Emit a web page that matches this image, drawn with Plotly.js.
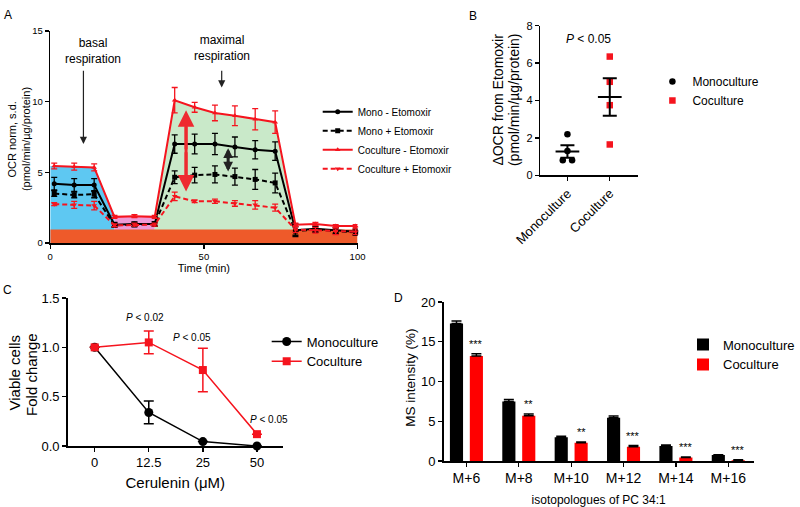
<!DOCTYPE html>
<html>
<head>
<meta charset="utf-8">
<script src="https://cdn.plot.ly/plotly-3.0.1.min.js"></script>
<style>html,body{margin:0;padding:0;background:#fff;}#chart{width:800px;height:507px;}</style>
</head>
<body>
<div id="chart"></div>
<script>
// ---------- Panel A data ----------
const timeMin = [1.3, 7.8, 14.3, 20.9, 27.4, 34.0, 40.5, 47.0, 53.6, 60.1, 66.7, 73.2, 79.8, 86.3, 92.9, 99.4];
const monoMinusEto   = [4.2, 4.1, 4.1, 1.3, 1.35, 1.35, 7.0, 7.0, 7.0, 6.8, 6.6, 6.5, 0.9, 1.0, 0.9, 0.8];
const monoMinusEtoSd = [0.45, 0.45, 0.45, 0.15, 0.15, 0.15, 0.65, 0.7, 0.75, 0.7, 0.65, 0.65, 0.45, 0.2, 0.2, 0.2];
const monoPlusEto    = [3.5, 3.4, 3.45, 1.25, 1.3, 1.35, 4.65, 4.8, 4.85, 4.7, 4.5, 4.25, 0.85, 0.95, 0.85, 0.75];
const monoPlusEtoSd  = [0.2, 0.2, 0.25, 0.15, 0.15, 0.15, 0.45, 0.55, 0.6, 0.6, 0.7, 0.7, 0.3, 0.2, 0.2, 0.2];
const cocMinusEto    = [5.45, 5.4, 5.35, 1.85, 1.9, 1.85, 10.1, 9.6, 9.2, 9.0, 8.75, 8.55, 1.3, 1.35, 1.2, 1.2];
const cocMinusEtoSd  = [0.2, 0.25, 0.25, 0.1, 0.1, 0.1, 0.9, 0.35, 0.55, 0.7, 0.75, 0.8, 0.1, 0.1, 0.1, 0.1];
const cocPlusEto     = [2.75, 2.7, 2.65, 1.25, 1.3, 1.3, 3.3, 2.95, 2.95, 2.8, 2.7, 2.5, 0.95, 0.9, 0.8, 0.8];
const cocPlusEtoSd   = [0.1, 0.25, 0.3, 0.1, 0.1, 0.1, 0.3, 0.1, 0.15, 0.2, 0.3, 0.25, 0.2, 0.2, 0.2, 0.2];
const nonMitoLevel = 0.95;
const timeRange = [0, 100];
const seriesNamesA = ['Mono - Etomoxir', 'Mono + Etomoxir', 'Coculture - Etomoxir', 'Coculture + Etomoxir'];

// ---------- Panel B data ----------
const groupsB = ['Monoculture', 'Coculture'];
const monoDeltaOCR = [2.2, 1.3, 0.8, 0.8];
const cocDeltaOCR  = [6.35, 5.0, 3.75, 1.65];

// ---------- Panel C data ----------
const ceruleninDose = ['0', '12.5', '25', '50'];
const monoViable    = [1.0, 0.34, 0.045, 0.0];
const monoViableErr = [0, 0.115, 0, 0];
const cocViable     = [1.0, 1.05, 0.77, 0.12];
const cocViableErr  = [0, 0.115, 0.22, 0];
const pLabelsC = ['<i>P</i> &lt; 0.02', '<i>P</i> &lt; 0.05', '<i>P</i> &lt; 0.05'];

// ---------- Panel D data ----------
const isotopologues = ['M+6', 'M+8', 'M+10', 'M+12', 'M+14', 'M+16'];
const monoMS    = [17.3, 7.5, 3.0, 5.45, 1.9, 0.75];
const monoMSErr = [0.3, 0.25, 0.1, 0.2, 0.1, 0.05];
const cocMS     = [13.2, 5.7, 2.3, 1.8, 0.45, 0.1];
const cocMSErr  = [0.3, 0.2, 0.1, 0.15, 0.05, 0.05];
const sigD = ['***', '**', '**', '***', '***', '***'];

// ---------- helpers ----------
const FONT = 'Liberation Sans, Arial, sans-serif';
const RED = '#F5141E';
const BLACK = '#000000';
const mean = a => a.reduce((s, v) => s + v, 0) / a.length;
const sem = a => { const m = mean(a); const v = a.reduce((s, x) => s + (x - m) * (x - m), 0) / (a.length - 1); return Math.sqrt(v / a.length); };
// spread points with identical values horizontally (drawing rule, not data)
function jitter(vals, center, step) {
  return vals.map((v, i) => {
    const same = vals.map((w, j) => j).filter(j => vals[j] === v);
    if (same.length < 2) return center;
    const k = same.indexOf(i);
    return center + (k - (same.length - 1) / 2) * step;
  });
}

const traces = [];

// ---------- Panel A fills ----------
function seg(i0, i1) { return { x: timeMin.slice(i0, i1 + 1), y: cocMinusEto.slice(i0, i1 + 1) }; }
const blue = seg(0, 3); blue.x.unshift(timeRange[0]); blue.y.unshift(cocMinusEto[0]);
const pink = seg(3, 5);
const green = seg(5, 12);
[[blue, '#5EC8F2'], [pink, '#EE9AD6'], [green, '#C9E9C9']].forEach(([s, c]) => {
  traces.push({ x: s.x, y: s.y, type: 'scatter', mode: 'lines', fill: 'tozeroy', fillcolor: c,
    line: { width: 0, color: c }, hoverinfo: 'skip', showlegend: false, xaxis: 'x', yaxis: 'y' });
});
traces.push({ x: timeRange, y: [nonMitoLevel, nonMitoLevel], type: 'scatter', mode: 'lines', fill: 'tozeroy',
  fillcolor: '#EE5A2A', line: { width: 0, color: '#EE5A2A' }, hoverinfo: 'skip', showlegend: false, xaxis: 'x', yaxis: 'y' });

// ---------- Panel A lines ----------
const specA = [
  [monoMinusEto, monoMinusEtoSd, BLACK, 'solid', 'circle', 5],
  [monoPlusEto, monoPlusEtoSd, BLACK, '5px,3px', 'square', 5],
  [cocMinusEto, cocMinusEtoSd, RED, 'solid', 'triangle-up', 5],
  [cocPlusEto, cocPlusEtoSd, RED, '5px,3px', 'triangle-down', 5]
];
specA.forEach(([y, e, c, d, sym, sz], i) => {
  traces.push({ x: timeMin, y: y, name: seriesNamesA[i], type: 'scatter', mode: 'lines+markers',
    line: { color: c, width: 2, dash: d }, marker: { symbol: sym, size: sz, color: c },
    error_y: { type: 'data', array: e, visible: true, color: c, thickness: 1.3, width: 3 },
    cliponaxis: false, xaxis: 'x', yaxis: 'y', legend: 'legend' });
});

// ---------- Panel B ----------
[[monoDeltaOCR, BLACK, 'circle', 0], [cocDeltaOCR, RED, 'square', 1]].forEach(([vals, c, sym, idx]) => {
  traces.push({ x: jitter(vals, idx, 0.22), y: vals, type: 'scatter', mode: 'markers', name: groupsB[idx],
    marker: { symbol: sym, size: 6.5, color: c }, xaxis: 'x2', yaxis: 'y2', legend: 'legend2', cliponaxis: false });
  const m = mean(vals);
  traces.push({ x: [idx - 0.28, idx + 0.28], y: [m, m], type: 'scatter', mode: 'lines',
    line: { color: BLACK, width: 2 }, showlegend: false, xaxis: 'x2', yaxis: 'y2', hoverinfo: 'skip' });
  traces.push({ x: [idx], y: [m], type: 'scatter', mode: 'lines', line: { width: 0 },
    error_y: { type: 'data', array: [sem(vals)], visible: true, color: BLACK, thickness: 2, width: 7 },
    showlegend: false, xaxis: 'x2', yaxis: 'y2', hoverinfo: 'skip' });
});

// ---------- Panel C ----------
traces.push({ x: ceruleninDose, y: monoViable, name: 'Monoculture', type: 'scatter', mode: 'lines+markers',
  line: { color: BLACK, width: 1.5 }, marker: { symbol: 'circle', size: 9, color: BLACK },
  error_y: { type: 'data', array: monoViableErr, visible: true, color: BLACK, thickness: 1.5, width: 5 },
  cliponaxis: false, xaxis: 'x3', yaxis: 'y3', legend: 'legend3' });
traces.push({ x: ceruleninDose, y: cocViable, name: 'Coculture', type: 'scatter', mode: 'lines+markers',
  line: { color: RED, width: 1.5 }, marker: { symbol: 'square', size: 8, color: RED },
  error_y: { type: 'data', array: cocViableErr, visible: true, color: RED, thickness: 1.5, width: 5 },
  cliponaxis: false, xaxis: 'x3', yaxis: 'y3', legend: 'legend3' });

// ---------- Panel D ----------
traces.push({ x: isotopologues, y: monoMS, name: 'Monoculture', type: 'bar', marker: { color: BLACK },
  error_y: { type: 'data', array: monoMSErr, arrayminus: monoMSErr.map(() => 0), symmetric: false, visible: true, color: BLACK, thickness: 1.5, width: 5 },
  xaxis: 'x4', yaxis: 'y4', legend: 'legend4' });
traces.push({ x: isotopologues, y: cocMS, name: 'Coculture', type: 'bar', marker: { color: '#FF0000' },
  error_y: { type: 'data', array: cocMSErr, arrayminus: cocMSErr.map(() => 0), symmetric: false, visible: true, color: BLACK, thickness: 1.5, width: 5 },
  xaxis: 'x4', yaxis: 'y4', legend: 'legend4' });

// ---------- annotations ----------
const ann = [];
const shapes = [];
const letter = (t, x, y) => ann.push({ text: t, xref: 'paper', yref: 'paper', x: x / 800, y: 1 - y / 507,
  showarrow: false, xanchor: 'left', yanchor: 'middle', font: { size: 12, family: FONT, color: '#000' } });
letter('A', 2, 15); letter('B', 483, 16); letter('C', 1, 290); letter('D', 406, 298);

// rotated axis titles placed on the page
const vtitle = (t, x, y, size) => ann.push({ text: t, xref: 'paper', yref: 'paper', x: x / 800, y: 1 - y / 507,
  textangle: -90, showarrow: false, xanchor: 'center', yanchor: 'middle', font: { size: size, family: FONT, color: '#000' } });
vtitle('OCR norm, s.d.', 12, 140, 11);
vtitle('(pmol/min/µg/protein)', 27, 139, 11);
vtitle('ΔOCR from Etomoxir', 515, 100, 14);
vtitle('(pmol/min/µg/protein)', 532, 100, 14);
vtitle('Viable cells', 15, 372, 15);
vtitle('Fold change', 32, 374, 15);
vtitle('MS intensity (%)', 424, 378, 13.5);

// Panel A labels/arrows
ann.push({ text: 'basal<br>respiration', x: 13.8, y: 13.6, xref: 'x', yref: 'y', showarrow: false, font: { size: 12, family: FONT } });
ann.push({ text: 'maximal<br>respiration', x: 55.8, y: 13.8, xref: 'x', yref: 'y', showarrow: false, font: { size: 12, family: FONT } });
const arrowA = (x, yTip, yTail, color, w, size) => ann.push({ text: '', x: x, y: yTip, ax: x, ay: yTail,
  xref: 'x', yref: 'y', axref: 'x', ayref: 'y', showarrow: true, arrowhead: 2, arrowsize: size, arrowwidth: w, arrowcolor: color });
arrowA(10.8, 7.0, 12.3, '#222', 1.2, 1.2);
arrowA(55.8, 11.0, 12.3, '#222', 1.2, 1.2);
// double arrows: two heads from the middle plus a continuous shaft
const dbl = (x, y0, y1, color, w, size) => {
  const m = (y0 + y1) / 2; arrowA(x, y0, m, color, w, size); arrowA(x, y1, m, color, w, size);
  const inset = (y1 - y0) * 0.2;
  shapes.push({ type: 'line', xref: 'x', yref: 'y', x0: x, x1: x, y0: y0 + inset, y1: y1 - inset, line: { color: color, width: w } });
};
dbl(44.2, 3.65, 9.4, '#EE2A30', 3, 1.1);
dbl(57.9, 5.06, 6.7, '#222', 3, 0.65);

// Panel B P value
ann.push({ text: '<i>P</i> &lt; 0.05', x: 0.5, y: 7.3, xref: 'x2', yref: 'y2', showarrow: false, font: { size: 12, family: FONT } });

// Panel C P values
[[0.93, 1.30], [1.79, 1.10], [3.23, 0.27]].forEach(([x, y], i) => {
  ann.push({ text: pLabelsC[i], x: x, y: y, xref: 'x3', yref: 'y3', showarrow: false, font: { size: 10, family: FONT } });
});

// Panel D significance stars (above red bars)
sigD.forEach((s, i) => {
  ann.push({ text: s, x: i + 0.19, y: cocMS[i] + cocMSErr[i], xref: 'x4', yref: 'y4', showarrow: false,
    yanchor: 'bottom', yshift: 2, font: { size: 11, family: FONT } });
});

const axBase = { showline: true, linecolor: '#000', linewidth: 1.5, ticks: 'outside', ticklen: 4, tickwidth: 1.3,
  tickcolor: '#000', showgrid: false, zeroline: false, fixedrange: true };

const layout = {
  width: 800, height: 507, margin: { l: 0, r: 0, t: 0, b: 0 },
  paper_bgcolor: '#fff', plot_bgcolor: 'rgba(0,0,0,0)',
  font: { family: FONT, color: '#000', size: 11 },
  barmode: 'group', bargap: 0.24, bargroupgap: 0.34,
  xaxis: Object.assign({}, axBase, { domain: [0.065, 0.4625], range: timeRange, tickvals: [0, 50, 100], anchor: 'y',
    tickfont: { size: 9.5 }, title: { text: 'Time (min)', font: { size: 11 }, standoff: 1 } }),
  yaxis: Object.assign({}, axBase, { domain: [0.5207, 0.9389], range: [0, 15], tickvals: [0, 5, 10, 15], anchor: 'x',
    tickfont: { size: 9.5 } }),
  xaxis2: Object.assign({}, axBase, { domain: [0.699, 0.825], range: [-0.64, 1.66], tickvals: [0, 1], ticktext: groupsB,
    tickangle: -45, tickfont: { size: 13 }, anchor: 'y2' }),
  yaxis2: Object.assign({}, axBase, { domain: [0.6542, 0.9493], range: [0, 8], dtick: 2, anchor: 'x2', tickfont: { size: 11 } }),
  xaxis3: Object.assign({}, axBase, { domain: [0.0875, 0.366], type: 'category', range: [-0.5, 3.48], anchor: 'y3',
    tickfont: { size: 13 }, title: { text: 'Cerulenin (μM)', font: { size: 15 }, standoff: 8 } }),
  yaxis3: Object.assign({}, axBase, { domain: [0.1203, 0.4122], range: [0, 1.5], dtick: 0.5, tickformat: '.1f', anchor: 'x3',
    tickfont: { size: 13 } }),
  xaxis4: Object.assign({}, axBase, { domain: [0.5738, 0.975], type: 'category', range: [-0.437, 5.485], anchor: 'y4',
    tickfont: { size: 14 }, title: { text: 'isotopologues of PC 34:1', font: { size: 12 }, standoff: 16 } }),
  yaxis4: Object.assign({}, axBase, { domain: [0.0907, 0.4043], range: [0, 20], dtick: 5, anchor: 'x4',
    tickfont: { size: 13 } }),
  legend:  { x: 0.411, y: 0.808, xanchor: 'left', yanchor: 'top', font: { size: 10 }, bgcolor: 'rgba(0,0,0,0)', tracegroupgap: 0 },
  legend2: { x: 0.844, y: 0.868, xanchor: 'left', yanchor: 'top', font: { size: 12 }, bgcolor: 'rgba(0,0,0,0)' },
  legend3: { x: 0.345, y: 0.356, xanchor: 'left', yanchor: 'top', font: { size: 13 }, bgcolor: 'rgba(0,0,0,0)' },
  legend4: { x: 0.884, y: 0.35, xanchor: 'left', yanchor: 'top', font: { size: 13 }, bgcolor: 'rgba(0,0,0,0)' },
  annotations: ann,
  shapes: shapes,
  showlegend: true
};

Plotly.newPlot('chart', traces, layout, { displayModeBar: false, staticPlot: true });
</script>
</body>
</html>
